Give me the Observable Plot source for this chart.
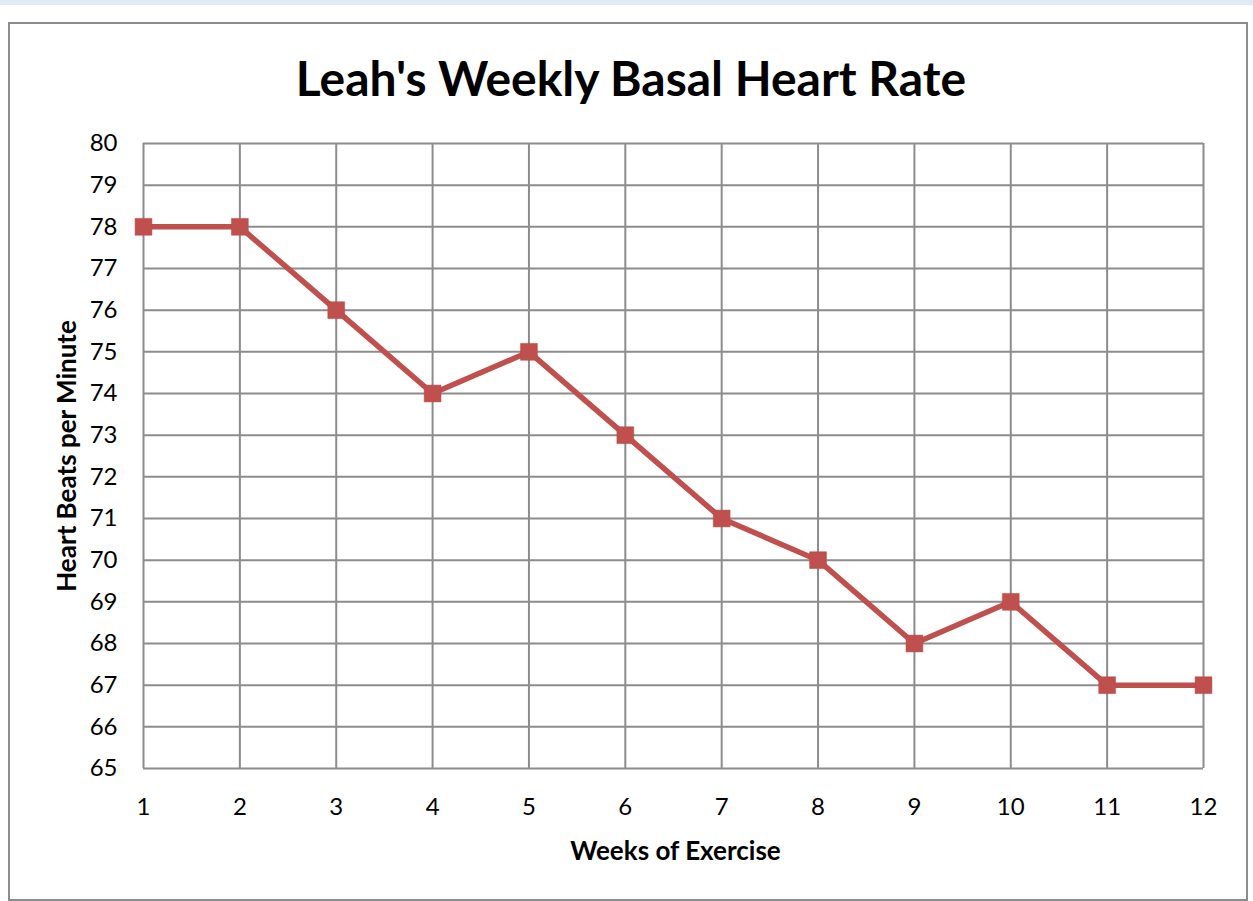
<!DOCTYPE html>
<html>
<head>
<meta charset="utf-8">
<script src="https://cdn.jsdelivr.net/npm/d3@7"></script>
<script src="https://cdn.jsdelivr.net/npm/@observablehq/plot@0.6"></script>
<style>
  html, body { margin: 0; padding: 0; background: #fff; width: 1253px; height: 901px; overflow: hidden; }
  #band { position: absolute; left: 0; top: 0; width: 1253px; height: 5px; background: #deebf6; }
  #frame { position: absolute; left: 8px; top: 22px; width: 1236px; height: 875px; border: 2px solid #8c8c8c; }
  #chart { position: absolute; left: 0; top: 0; }
  .lbl { position: absolute; font-family: Lato, "Open Sans", sans-serif; font-weight: bold; color: #000; white-space: nowrap; }
  #title { left: 0; width: 1262px; text-align: center; top: 50px; font-size: 48px; line-height: 56px; }
  #xlabel { left: 0; width: 1351px; text-align: center; top: 834px; font-size: 26px; line-height: 32px; }
  #ylabel { left: 66px; top: 456px; font-size: 26px; line-height: 32px; transform: translate(-50%, -50%) rotate(-90deg); }
</style>
</head>
<body>
<div id="band"></div>
<div id="frame"></div>
<div id="chart"></div>
<div class="lbl" id="title">Leah's Weekly Basal Heart Rate</div>
<div class="lbl" id="xlabel">Weeks of Exercise</div>
<div class="lbl" id="ylabel">Heart Beats per Minute</div>
<script>
const weeks = [1, 2, 3, 4, 5, 6, 7, 8, 9, 10, 11, 12];
const heartRate = [78, 78, 76, 74, 75, 73, 71, 70, 68, 69, 67, 67];
const xTicks = [1, 2, 3, 4, 5, 6, 7, 8, 9, 10, 11, 12];
const yTicks = [65, 66, 67, 68, 69, 70, 71, 72, 73, 74, 75, 76, 77, 78, 79, 80];

const data = weeks.map((w, i) => ({week: w, bpm: heartRate[i]}));
const red = "#c0504d";
const gridColor = "#8c8c8c";

const plot = Plot.plot({
  width: 1253,
  height: 901,
  marginLeft: 143,
  marginRight: 50,
  marginTop: 143,
  marginBottom: 133,
  style: {fontFamily: "Lato, 'Open Sans', sans-serif", fontSize: "24px", color: "#000", background: "transparent"},
  x: {domain: [1, 12]},
  y: {domain: [65, 80]},
  marks: [
    Plot.gridX(xTicks, {stroke: gridColor, strokeOpacity: 1, strokeWidth: 2}),
    Plot.gridY(yTicks, {stroke: gridColor, strokeOpacity: 1, strokeWidth: 2}),
    Plot.axisX(xTicks, {tickSize: 0, tickPadding: 29, label: null, fontSize: 24, tickFormat: d => String(d)}),
    Plot.axisY(yTicks, {tickSize: 0, tickPadding: 26, label: null, fontSize: 24, tickFormat: d => String(d)}),
    Plot.line(data, {x: "week", y: "bpm", stroke: red, strokeWidth: 5.5}),
    Plot.dot(data, {x: "week", y: "bpm", symbol: "square", r: 9.5, fill: red, stroke: "#b94a47", strokeWidth: 0.5})
  ]
});
document.getElementById("chart").appendChild(plot);
</script>
</body>
</html>
